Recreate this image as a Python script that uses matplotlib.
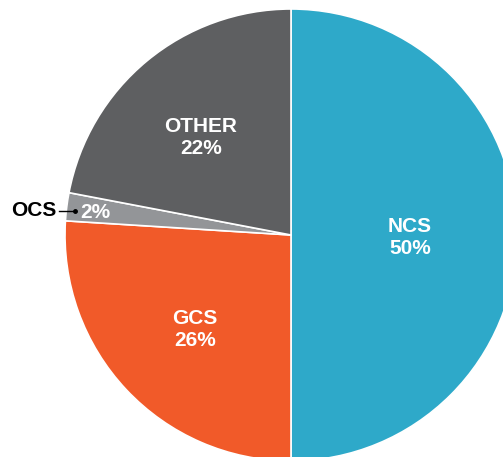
import matplotlib
matplotlib.use("Agg")
import matplotlib.pyplot as plt

plt.rcParams['font.family'] = ['Liberation Sans', 'DejaVu Sans']

# data
labels = ['NCS', 'GCS', 'OCS', 'OTHER']
shares = [50, 26, 2, 22]
colors = ['#2EA9C9', '#F15A29', '#939598', '#5E5F61']

fig = plt.figure(figsize=(5.03, 4.57), dpi=100)
ax = fig.add_axes([0, 0, 1, 1])

cx, cy, r = 291, 457 - 235, 226
wedges, _ = ax.pie(shares, colors=colors, startangle=90, counterclock=False,
                   center=(cx, cy), radius=r,
                   wedgeprops=dict(edgecolor='white', linewidth=1.2))

ax.set_xlim(0, 503)
ax.set_ylim(0, 457)
ax.set_aspect('auto')
ax.axis('off')

# labels inside slices (image coords -> data coords)
inside = {
    'NCS': (410, 238),
    'GCS': (195, 330),
    'OTHER': (201, 138),
}
for name, (x, y) in inside.items():
    pct = shares[labels.index(name)]
    ax.text(x, 457 - y, f"{name}\n{pct}%", ha='center', va='center',
            color='white', fontsize=15, fontweight='bold', linespacing=1.2)

# small slice: percent inside, name outside with pointer
pct = shares[labels.index('OCS')]
ax.text(95, 457 - 213, f"{pct}%", ha='center', va='center',
        color='white', fontsize=15, fontweight='bold')
ax.text(11, 457 - 210, 'OCS', ha='left', va='center',
        color='black', fontsize=15, fontweight='bold')
ax.plot([59, 75], [457 - 211, 457 - 211], color='black', linewidth=1)
ax.plot([75], [457 - 211], marker='o', markersize=2.5, color='black')

fig.savefig('out.png', dpi=100)
